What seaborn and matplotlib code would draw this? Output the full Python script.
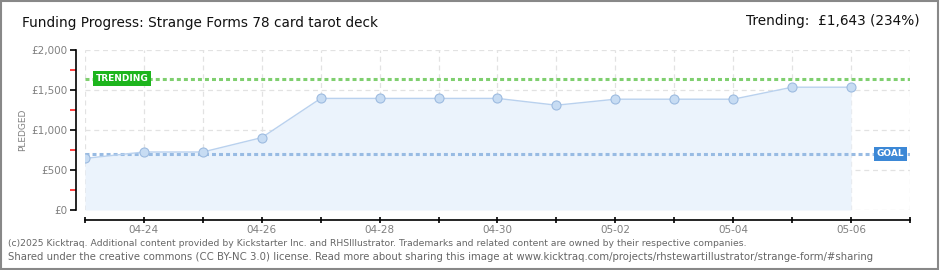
import matplotlib
matplotlib.use("Agg")
import matplotlib.pyplot as plt
import seaborn as sns
import pandas as pd
import numpy as np
from matplotlib.patches import Rectangle

dates = ["04-23", "04-24", "04-25", "04-26", "04-27", "04-28", "04-29",
         "04-30", "05-01", "05-02", "05-03", "05-04", "05-05", "05-06"]
pledged = [645, 725, 725, 905, 1395, 1395, 1395, 1395, 1310, 1385, 1385, 1385, 1535, 1535]
goal = 700
trending = 1643
tick_labels = ["04-24", "04-26", "04-28", "04-30", "05-02", "05-04", "05-06"]
y_ticks = [0, 500, 1000, 1500, 2000]
y_tick_labels = ["£0", "£500", "£1,000", "£1,500", "£2,000"]

df = pd.DataFrame({"day": np.arange(len(dates)), "pledged": pledged})

sns.set_theme(style="white")
plt.rcParams['font.family'] = ['DejaVu Sans']

fig = plt.figure(figsize=(9.4, 2.7), dpi=100)
W, H = 940, 270
ax = fig.add_axes([85 / W, 1 - 210 / H, 825 / W, 160 / H])

ax.fill_between(df["day"], df["pledged"], 0, color="#ebf3fc", zorder=1, lw=0)
sns.lineplot(data=df, x="day", y="pledged", ax=ax, color="#b9d1ee", lw=1,
             marker="o", markersize=6.5, markerfacecolor="#c7dcf3",
             markeredgecolor="#9dbbe0", markeredgewidth=0.8, zorder=4)

ax.axhline(trending, color="#7fcf6f", lw=2.2, ls=(0, (1.3, 1)), zorder=3)
ax.axhline(goal, color="#98bbe3", lw=2.2, ls=(0, (1.3, 1)), zorder=3)

ax.set_xlim(0, 14)
ax.set_ylim(0, 2000)
ax.set_xticks(np.arange(0, 15))
xl = []
for i in range(15):
    if i < len(dates) and dates[i] in tick_labels:
        xl.append(dates[i])
    else:
        xl.append("")
ax.set_xticklabels(xl)
ax.set_yticks(y_ticks)
ax.set_yticklabels(y_tick_labels)
ax.set_yticks(np.arange(250, 2000, 500), minor=True)

ax.grid(True, which="major", color="#e2e2e2", ls=(0, (4, 3)), lw=0.9)
ax.set_axisbelow(True)

for s in ["top", "right"]:
    ax.spines[s].set_visible(False)
ax.spines["left"].set_position(("outward", 6.5))
ax.spines["bottom"].set_position(("outward", 7.5))
ax.spines["left"].set_color("black")
ax.spines["bottom"].set_color("black")
ax.spines["left"].set_linewidth(1.2)
ax.spines["bottom"].set_linewidth(1.2)
ax.tick_params(axis="y", which="major", left=True, length=4, width=1.2, color="black",
               labelsize=7.5, labelcolor="#808080", pad=2)
ax.tick_params(axis="y", which="minor", left=True, length=4, width=1.2, color="#ff2020")
ax.tick_params(axis="x", which="major", bottom=True, length=4, width=1.2, color="black",
               direction="inout", labelsize=7.5, labelcolor="#808080", pad=1)
ax.set_xlabel("")
ax.set_ylabel("PLEDGED", fontsize=6.5, color="#808080", labelpad=3)

# Labels on reference lines
ax.text(0.18, trending, "TRENDING", ha="left", va="center", fontsize=6.5, color="white",
        fontweight="bold", zorder=6,
        bbox=dict(boxstyle="square,pad=0.3", fc="#1db51d", ec="none"))
ax.text(13.9, goal, "GOAL", ha="right", va="center", fontsize=6.5, color="white",
        fontweight="bold", zorder=6,
        bbox=dict(boxstyle="square,pad=0.3", fc="#3c88d6", ec="none"))

fig.text(22 / W, 1 - 23 / H, "Funding Progress: Strange Forms 78 card tarot deck",
         fontsize=9.8, color="#111111", ha="left", va="center")
fig.text(920 / W, 1 - 21 / H, "Trending:  £1,643 (234%)", fontsize=9.8, color="#111111",
         ha="right", va="center")
fig.text(8 / W, 1 - 243 / H,
         "(c)2025 Kicktraq. Additional content provided by Kickstarter Inc. and RHSIllustrator. Trademarks and related content are owned by their respective companies.",
         fontsize=6.7, color="#666666", ha="left", va="center")
fig.text(8 / W, 1 - 257 / H,
         "Shared under the creative commons (CC BY-NC 3.0) license. Read more about sharing this image at www.kicktraq.com/projects/rhstewartillustrator/strange-form/#sharing",
         fontsize=7.3, color="#666666", ha="left", va="center")

fig.patches.append(Rectangle((0.001, 0.002), 0.997, 0.995, transform=fig.transFigure,
                             fill=False, ec="#888888", lw=1.5))

fig.savefig("out.png", dpi=100)
